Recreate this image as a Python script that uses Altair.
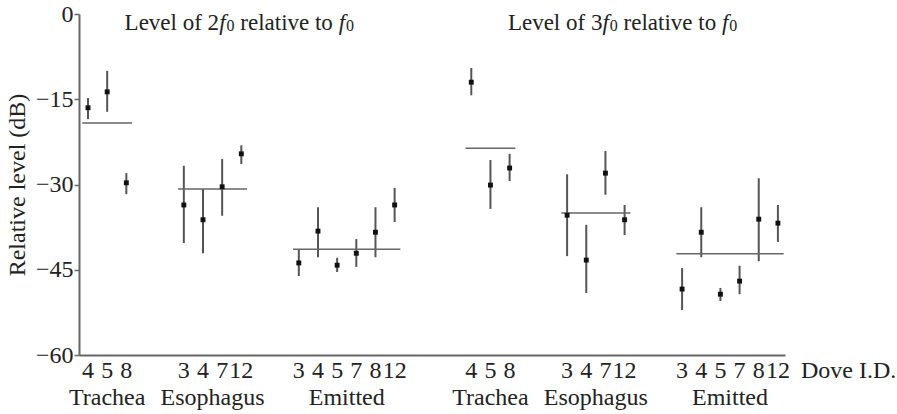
import altair as alt
import pandas as pd

FONT = "Liberation Serif"
FS = 24
TFS = 23

harmonics = ["2", "3"]
groups = ["Trachea", "Esophagus", "Emitted"]
dove_ids = [[4, 5, 8], [3, 4, 7, 12], [3, 4, 5, 7, 8, 12]]

# Level of 2f0 relative to f0 (dB): mean, lower, upper per dove
mean_2f0 = [-16.5, -13.7, -29.7, -33.6, -36.2, -30.4, -24.6, -43.8, -38.2, -44.2, -42.1, -38.4, -33.6]
lo_2f0 = [-18.5, -17.2, -31.7, -40.3, -42.1, -35.5, -26.4, -46.1, -42.8, -45.4, -44.5, -42.8, -36.6]
hi_2f0 = [-14.8, -10.0, -28.0, -26.7, -30.8, -25.5, -23.1, -41.4, -34.0, -42.9, -39.6, -34.0, -30.6]
group_mean_2f0 = [-19.2, -30.8, -41.4]

# Level of 3f0 relative to f0 (dB)
mean_3f0 = [-12.0, -30.1, -27.1, -35.4, -43.3, -28.0, -36.2, -48.4, -38.4, -49.3, -47.0, -36.1, -36.8]
lo_3f0 = [-14.3, -34.3, -29.4, -42.6, -49.1, -31.8, -38.9, -52.1, -42.8, -50.5, -49.3, -43.5, -40.1]
hi_3f0 = [-9.5, -25.7, -24.6, -28.2, -37.1, -24.1, -33.6, -44.7, -34.0, -48.2, -44.3, -28.9, -33.6]
group_mean_3f0 = [-23.6, -35.0, -42.2]

y_ticks = [0, -15, -30, -45, -60]

series = {
    "2": (mean_2f0, lo_2f0, hi_2f0, group_mean_2f0),
    "3": (mean_3f0, lo_3f0, hi_3f0, group_mean_3f0),
}

pts, grp, panels = [], [], []
pos = 0
for hi_idx, h in enumerate(harmonics):
    if hi_idx > 0:
        pos += 3
    m, lo, hi, gm = series[h]
    k = 0
    pstart = pos
    for gi, g in enumerate(groups):
        if gi > 0:
            pos += 2
        start = pos
        for d in dove_ids[gi]:
            pts.append(dict(h=h, group=g, dove=str(d), pos=pos, m=m[k], lo=lo[k], hi=hi[k]))
            k += 1
            pos += 1
        end = pos - 1
        grp.append(dict(h=h, group=g, start=start - 0.3, end=end + 0.3,
                        center=(start + end) / 2, level=gm[gi]))
    panels.append(dict(h=h, cx=(pstart + pos - 1) / 2, lead="Level of " + h))

pts = pd.DataFrame(pts)
grp = pd.DataFrame(grp)
panels = pd.DataFrame(panels)

xscale = alt.Scale(domain=[-0.47, 36.37], nice=False, zero=False)
yscale = alt.Scale(domain=[-60, 0], nice=False)
xaxis = alt.Axis(labels=False, ticks=False, title=None, grid=False,
                 domainColor="#666", domainWidth=2)
yaxis = alt.Axis(values=y_ticks, grid=False, domainColor="#666", domainWidth=2,
                 tickColor="#666", tickWidth=1.5, tickSize=5, labelFont=FONT,
                 labelFontSize=FS, labelColor="#222", labelPadding=1,
                 title="Relative level (dB)", titleFont=FONT, titleFontSize=FS,
                 titleFontWeight="normal", titleColor="#222", titlePadding=6)

bars = alt.Chart(pts).mark_rule(color="#555", strokeWidth=2).encode(
    x=alt.X("pos:Q", scale=xscale, axis=xaxis),
    y=alt.Y("lo:Q", scale=yscale, axis=yaxis),
    y2="hi:Q",
)
dots = alt.Chart(pts).mark_square(size=24, color="#111", opacity=1).encode(
    x=alt.X("pos:Q", scale=xscale, axis=xaxis),
    y=alt.Y("m:Q", scale=yscale, axis=yaxis),
)
means = alt.Chart(grp).mark_rule(color="#666", strokeWidth=1.5).encode(
    x=alt.X("start:Q", scale=xscale, axis=xaxis),
    x2="end:Q",
    y=alt.Y("level:Q", scale=yscale, axis=yaxis),
)
dove_lbl = alt.Chart(pts).mark_text(font=FONT, fontSize=FS, baseline="alphabetic",
                                    color="#222").encode(
    x=alt.X("pos:Q", scale=xscale, axis=xaxis),
    y=alt.value(364),
    text="dove:N",
)
grp_lbl = alt.Chart(grp).mark_text(font=FONT, fontSize=FS, baseline="alphabetic",
                                   color="#222").encode(
    x=alt.X("center:Q", scale=xscale, axis=xaxis),
    y=alt.value(391),
    text="group:N",
)
dove_title = alt.Chart(pd.DataFrame({"pos": [pts["pos"].max()], "t": ["Dove I.D."]})).mark_text(
    font=FONT, fontSize=FS, baseline="alphabetic", align="left", dx=23, color="#222"
).encode(
    x=alt.X("pos:Q", scale=xscale, axis=xaxis),
    y=alt.value(364),
    text="t:N",
)

# Panel titles "Level of Nf0 relative to f0" built from segments (Times metrics)
W = {" ": 250, "0": 500, "2": 500, "3": 500, "L": 611, "e": 444, "v": 500, "l": 278,
     "o": 500, "f": 333, "r": 333, "a": 444, "t": 278, "i": 278}
def tw(s, size):
    return sum(W.get(c, 500) for c in s) / 1000 * size

SUB = 16
segs = [("lead", "normal", TFS, 0), ("f", "italic", TFS, 0), ("0", "normal", SUB, 1),
        ("relative to", "normal", TFS, 0), ("f", "italic", TFS, 0), ("0", "normal", SUB, 1)]
widths = [tw("Level of 2", TFS), 278 / 1000 * TFS + 1, tw("0", SUB) + tw(" ", TFS),
          tw("relative to ", TFS), 278 / 1000 * TFS + 1, tw("0", SUB)]
total = sum(widths)
title_layers = []
off = -total / 2 - 2
for (txt, style, size, dy), w in zip(segs, widths):
    enc_text = alt.Text("lead:N") if txt == "lead" else alt.value(txt)
    title_layers.append(
        alt.Chart(panels).mark_text(font=FONT, fontSize=size, fontStyle=style,
                                    baseline="alphabetic", align="left", dx=off,
                                    dy=dy, color="#222").encode(
            x=alt.X("cx:Q", scale=xscale, axis=xaxis),
            y=alt.value(16),
            text=enc_text,
        )
    )
    off += w

chart = alt.layer(bars, means, dots, dove_lbl, grp_lbl, dove_title, *title_layers).properties(
    width=706, height=341,
    autosize=alt.AutoSizeParams(type="none"),
    padding={"left": 79, "top": 14, "right": 112, "bottom": 59},
).configure(font=FONT).configure_view(stroke=None).configure_axis(
    labelFont=FONT, titleFont=FONT
)

chart.save("out.html", embed_options={"renderer": "svg", "actions": False})
